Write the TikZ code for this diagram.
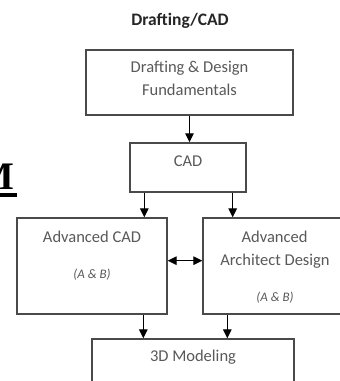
\documentclass[tikz,border=0pt]{standalone}
\usepackage{fontspec}
\setmainfont{Carlito}
\newfontfamily\bgserif{Liberation Serif}
\usetikzlibrary{arrows.meta}
\definecolor{boxline}{HTML}{4A4A4A}
\definecolor{boxtext}{HTML}{595959}
\tikzset{
  box/.style={draw=boxline, line width=1.4pt, minimum width=#1, inner sep=0pt},
  lbl/.style={text=boxtext, font=\fontsize{16.5}{19}\selectfont, anchor=base, inner sep=0pt},
  sublbl/.style={text=boxtext, font=\fontsize{13}{15}\selectfont\itshape, anchor=base, inner sep=0pt},
  arr/.style={draw=black, line width=1.3pt, -{Triangle[length=9pt,width=8.5pt]}},
  darr/.style={draw=black, line width=1.3pt, {Triangle[length=9pt,width=8.5pt]}-{Triangle[length=9pt,width=8.5pt]}},
  bg/.style={font=\fontsize{39}{40}\selectfont\bgserif\bfseries, inner sep=0pt}
}
\begin{document}
\begin{tikzpicture}[x=1pt,y=-1pt]
\useasboundingbox (0,0) rectangle (340,381);
\clip (0,0) rectangle (340,381);
\fill[white] (0,0) rectangle (340,381);
% background fragments
\node[bg, anchor=base east] (bgM) at (15,189) {M};
\fill[black] (-2,193) rectangle (17,197);
\node[bg, anchor=base west] (bgC) at (304,412) {C};
\node[bg, anchor=base west] (bgI) at (-4,416) {i};
% title
\node[font=\fontsize{17.5}{20}\selectfont\bfseries, text=black!85, anchor=base, inner sep=0pt] (title) at (180,25) {Drafting/CAD};
% boxes
\node[lbl] (f1) at (189.5,72.5) {Drafting \& Design};
\node[lbl] (f2) at (189.5,95) {Fundamentals};
\node[draw=boxline, line width=1.4pt, minimum width=207pt, minimum height=65pt, inner sep=0pt] (fund) at (189.5,82.5) {};
\node[box=116pt, minimum height=49pt] (cad) at (188,167.5) {};
\node[lbl] (cadt) at (188,166.5) {CAD};
\node[box=150pt, minimum height=96pt] (advcad) at (92,266) {};
\node[lbl] (ac1) at (92,242.5) {Advanced CAD};
\node[sublbl] (ac2) at (92,278) {(A \& B)};
\node[box=150pt, minimum height=96pt] (advarch) at (278,266) {};
\node[lbl] (aa1) at (274.5,242.5) {Advanced};
\node[lbl] (aa2) at (275,265) {Architect Design};
\node[sublbl] (aa3) at (275,301.5) {(A \& B)};
\node[box=202pt, minimum height=70pt] (model) at (193,374) {};
\node[lbl] (mt) at (193,361.5) {3D Modeling};
% connectors
\draw[arr] (fund.south) -- (fund.south |- cad.north);
\draw[arr] ([xshift=15pt]cad.south west) -- ([xshift=15pt]cad.south west |- advcad.north);
\draw[arr] ([xshift=-14pt]cad.south east) -- ([xshift=-14pt]cad.south east |- advarch.north);
\draw[darr] (advcad.east |- aa2.center) -- (advarch.west |- aa2.center);
\draw[arr] ([xshift=127pt]advcad.south west) -- ([xshift=127pt]advcad.south west |- model.north);
\draw[arr] ([xshift=25pt]advarch.south west) -- ([xshift=25pt]advarch.south west |- model.north);
\end{tikzpicture}
\end{document}
